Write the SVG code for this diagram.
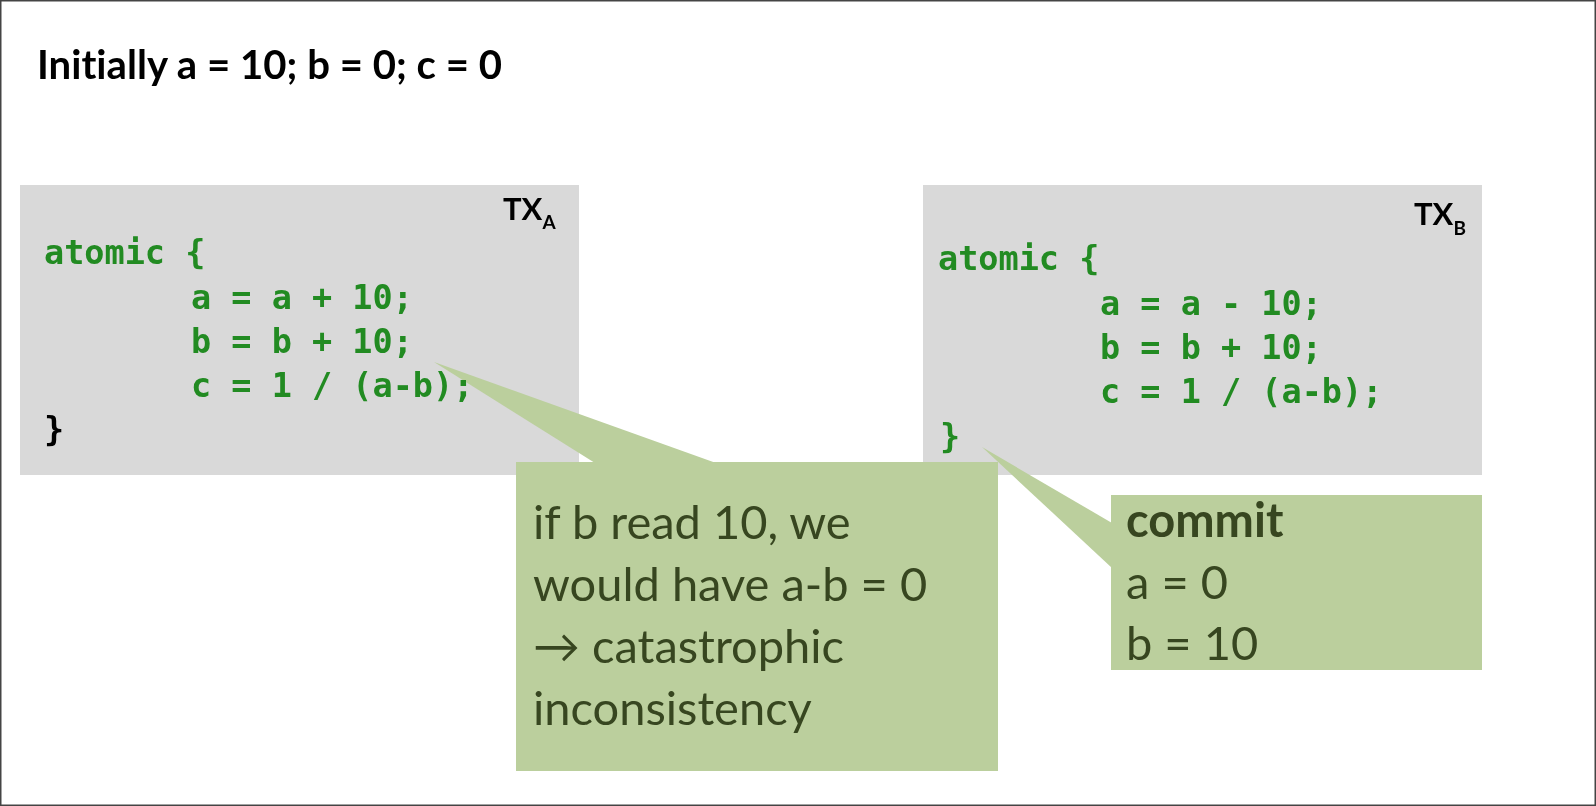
<svg xmlns="http://www.w3.org/2000/svg" width="1596" height="806" viewBox="0 0 1596 806">
  <style>
    text { font-variant-ligatures: none; }
    .frame { fill: #ffffff; stroke: #444444; stroke-width: 1.5; }
    .codebox { fill: #d9d9d9; }
    .code { font-family: "DejaVu Sans Mono", "Liberation Mono", monospace; font-weight: bold; font-size: 33.5px; fill: #228b22; }
    .black { fill: #000000; }
    .title { font-family: Lato, "Liberation Sans", sans-serif; font-weight: bold; font-size: 41px; fill: #000000; }
    .tx { font-family: Lato, "Liberation Sans", sans-serif; font-weight: bold; font-size: 31px; fill: #000000; }
    .sub { font-size: 19px; }
    .callout { fill: #bbcf9d; }
    .tail { fill: #bbcf9d; mix-blend-mode: darken; }
    .note { font-family: Lato, "DejaVu Sans", sans-serif; font-size: 47px; fill: #374620; }
    .bold { font-weight: bold; }
  </style>

  <rect class="frame" x="0.75" y="0.75" width="1594.5" height="804.5"/>

  <g id="title">
    <text class="title" x="37" y="79" textLength="465" lengthAdjust="spacingAndGlyphs">Initially a = 10; b = 0; c = 0</text>
  </g>

  <g id="txA">
    <rect class="codebox" x="20" y="185" width="559" height="290"/>
    <text class="tx" x="503" y="220">TX<tspan class="sub" dy="9">A</tspan></text>
    <text class="code" x="44" y="264">atomic {</text>
    <text class="code" x="191" y="308.5">a = a + 10;</text>
    <text class="code" x="191" y="353">b = b + 10;</text>
    <text class="code" x="191" y="397">c = 1 / (a-b);</text>
    <text class="code black" x="44" y="441">}</text>
  </g>

  <g id="txB">
    <rect class="codebox" x="923" y="185" width="559" height="290"/>
    <text class="tx" x="1414" y="225">TX<tspan class="sub" dy="10">B</tspan></text>
    <text class="code" x="938" y="270">atomic {</text>
    <text class="code" x="1100" y="315">a = a - 10;</text>
    <text class="code" x="1100" y="359">b = b + 10;</text>
    <text class="code" x="1100" y="403">c = 1 / (a-b);</text>
    <text class="code" x="940" y="448">}</text>
  </g>

  <g id="connectors">
    <polygon class="tail" points="434,362 595,463 716,463"/>
    <polygon class="tail" points="982,447 1112,523 1112,568"/>
  </g>

  <g id="note-inconsistency">
    <rect class="callout" x="516" y="462" width="482" height="309"/>
    <text class="note" x="533" y="539">if b read 10, we</text>
    <text class="note" x="533" y="601">would have a-b = 0</text>
    <text class="note" x="533" y="663">→ catastrophic</text>
    <text class="note" x="533" y="725">inconsistency</text>
  </g>

  <g id="note-commit">
    <rect class="callout" x="1111" y="495" width="371" height="175"/>
    <text class="note bold" x="1126" y="537">commit</text>
    <text class="note" x="1126" y="599">a = 0</text>
    <text class="note" x="1126" y="660">b = 10</text>
  </g>
</svg>
